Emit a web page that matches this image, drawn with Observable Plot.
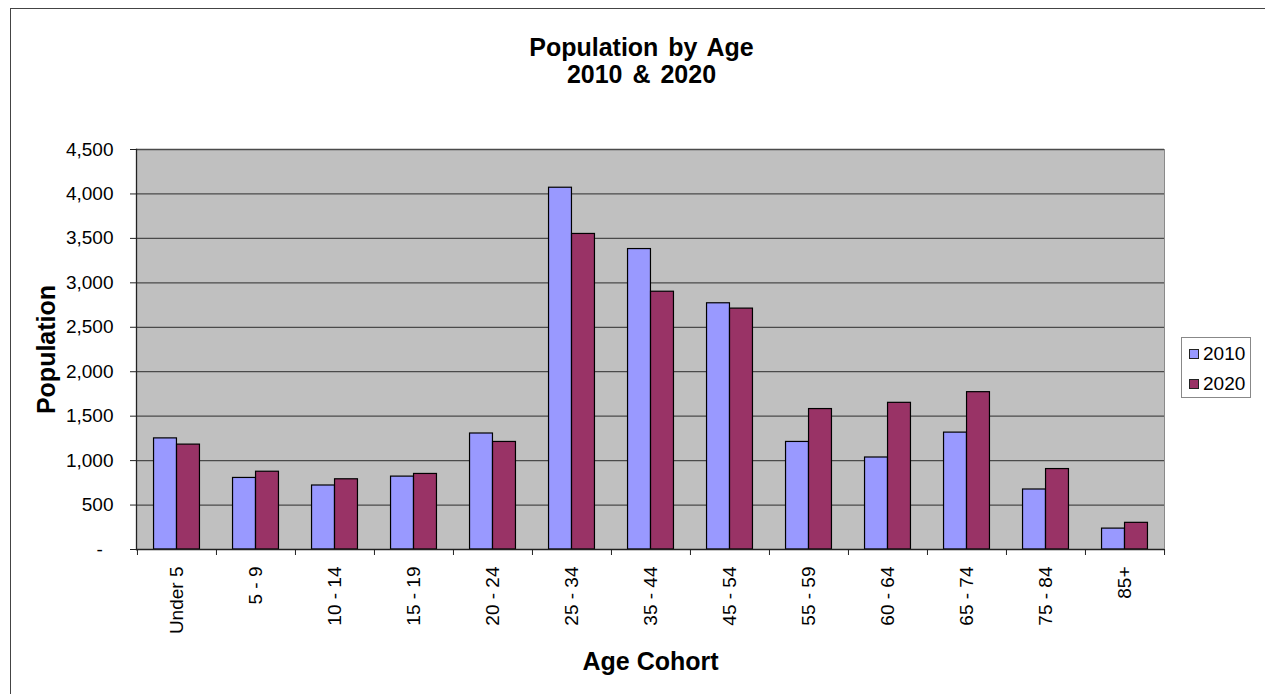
<!DOCTYPE html>
<html>
<head>
<meta charset="utf-8">
<script src="https://cdn.jsdelivr.net/npm/d3@7"></script>
<script src="https://cdn.jsdelivr.net/npm/@observablehq/plot@0.6"></script>
<style>
  html, body { margin: 0; padding: 0; background: #fff; overflow: hidden; }
  body { width: 1265px; height: 694px; position: relative; font-family: "Liberation Sans", Arial, sans-serif; }
  #border { position: absolute; left: 10px; top: 8px; width: 1400px; height: 900px; border: 1px solid #444; pointer-events: none; }
  #title { position: relative; box-sizing: border-box; width: 1265px; padding: 34px 0 0 18px; height: 88px;
           text-align: center; font: bold 25px/27px "Liberation Sans", Arial, sans-serif; color: #000; word-spacing: 3px; }
  #chart { position: relative; }
  #chart svg g[aria-label="x-axis label"] text,
  #chart svg g[aria-label="y-axis label"] text { font-weight: bold; font-size: 25px; }
  #legend { position: absolute; left: 1181px; top: 337px; width: 70px; height: 61px; box-sizing: border-box;
            border: 1px solid #888; background: #fff; padding: 1px 0 0 7px; font: 19px/30px "Liberation Sans", Arial, sans-serif; }
  #legend .row { display: flex; align-items: center; height: 30px; }
  #legend .sw { width: 8px; height: 8px; border: 1px solid #222; margin-right: 4px; }
</style>
</head>
<body>
<div id="border"></div>
<div id="title">Population by Age<br>2010 &amp; 2020</div>
<div id="chart"></div>
<div id="legend"></div>
<script>
// Age cohorts and population counts for each census year
const cohorts = ["Under 5", "5 - 9", "10 - 14", "15 - 19", "20 - 24", "25 - 34", "35 - 44",
                 "45 - 54", "55 - 59", "60 - 64", "65 - 74", "75 - 84", "85+"];
const pop2010 = [1250, 805, 720, 820, 1305, 4070, 3380, 2770, 1210, 1035, 1315, 675, 235];
const pop2020 = [1180, 875, 790, 850, 1210, 3550, 2900, 2710, 1580, 1650, 1770, 905, 300];
const years = ["2010", "2020"];
const yTicks = [0, 500, 1000, 1500, 2000, 2500, 3000, 3500, 4000, 4500];

const colors = {"2010": "#9999ff", "2020": "#993366"};

const rows2010 = cohorts.map((c, i) => ({cohort: c, value: pop2010[i]}));
const rows2020 = cohorts.map((c, i) => ({cohort: c, value: pop2020[i]}));

const width = 1265, height = 606;
const margin = {top: 61, right: 101, bottom: 145, left: 136};
const step = (width - margin.left - margin.right) / cohorts.length;
const barW = 23;
const outer = (step - 2 * barW) / 2;

const fmt = d3.format(",");

const chart = Plot.plot({
  width, height,
  marginTop: margin.top, marginRight: margin.right, marginBottom: margin.bottom, marginLeft: margin.left,
  style: {fontFamily: "'Liberation Sans', Arial, sans-serif", fontSize: "19px", color: "#000", background: "transparent", overflow: "visible"},
  x: {domain: cohorts, padding: 0},
  y: {domain: [0, 4500]},
  marks: [
    Plot.frame({fill: "#c0c0c0", stroke: "#8a8a8a"}),
    Plot.gridY(yTicks.filter(d => d > 0), {stroke: "#4a4a4a", strokeOpacity: 1, strokeWidth: 1.3}),
    Plot.barY(rows2010, {x: "cohort", y: "value", fill: colors["2010"], stroke: "#000", strokeWidth: 1.2,
                         insetLeft: outer, insetRight: step - outer - barW}),
    Plot.barY(rows2020, {x: "cohort", y: "value", fill: colors["2020"], stroke: "#000", strokeWidth: 1.2,
                         insetLeft: outer + barW, insetRight: outer}),
    Plot.ruleY([0], {stroke: "#222", strokeWidth: 1.3}),
    Plot.frame({anchor: "left", stroke: "#222", strokeWidth: 1.3}),
    // y axis: values with thousands separators, zero shown as a dash
    Plot.axisY({ticks: yTicks, tickSize: 6, tickPadding: 17, stroke: "#222",
                tickFormat: d => d === 0 ? "-\u00a0\u00a0" : fmt(d),
                label: "Population", labelAnchor: "center", labelArrow: "none", labelOffset: 99}),
    // x axis tick marks sit on the boundaries between cohorts
    Plot.axisX({tickSize: 6, tickFormat: () => "", label: null, dx: -step / 2, stroke: "#222"}),
    Plot.axisX({ticks: [cohorts[cohorts.length - 1]], tickSize: 6, tickFormat: () => "", label: null, dx: step / 2, stroke: "#222"}),
    // rotated cohort labels and the axis title
    Plot.axisX({tickSize: 0, tickPadding: 17, tickRotate: -90,
                label: "Age Cohort", labelAnchor: "center", labelArrow: "none", labelOffset: 120})
  ]
});
document.getElementById("chart").appendChild(chart);

// legend
const legend = document.getElementById("legend");
for (const y of years) {
  const row = document.createElement("div");
  row.className = "row";
  const sw = document.createElement("span");
  sw.className = "sw";
  sw.style.background = colors[y];
  const label = document.createElement("span");
  label.textContent = y;
  row.appendChild(sw);
  row.appendChild(label);
  legend.appendChild(row);
}
</script>
</body>
</html>
